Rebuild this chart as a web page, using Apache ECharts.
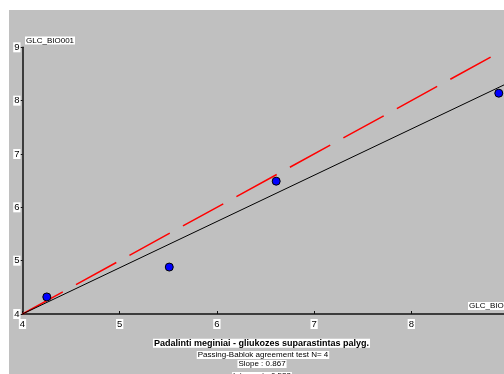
<!DOCTYPE html>
<html>
<head>
<meta charset="utf-8">
<script src="https://cdn.jsdelivr.net/npm/echarts@6/dist/echarts.min.js"></script>
<style>
  html, body { margin: 0; padding: 0; background: #ffffff; }
  #chart { position: absolute; left: 9px; top: 10px; width: 495px; height: 364px; }
</style>
</head>
<body>
<div id="chart"></div>
<script>
// Paired glucose measurements (GLC_BIO0 vs GLC_BIO001)
var xValues = [4.25, 5.51, 6.61, 8.90];
var yValues = [4.32, 4.88, 6.49, 8.14];

// Passing-Bablok fit results
var slope = 0.867;
var intercept = 0.532;
var nPairs = 4;

// Axis ranges and tick labels
var axisMin = 4;
var axisMax = 9;
var tickStep = 1;
var identityEnd = 8.87;

var xName = 'GLC_BIO001';
var yName = 'GLC_BIO001';
var titleText = 'Padalinti meginiai - gliukozes suparastintas palyg.';
var testText = 'Passing-Bablok agreement test N= ' + nPairs;
var slopeText = 'Slope : ' + slope.toFixed(3);
var interceptText = 'Intercept : ' + intercept.toFixed(3);

var FONT = '"Liberation Sans Narrow", "Liberation Sans", Arial, sans-serif';

var points = xValues.map(function (x, i) { return [x, yValues[i]]; });
var fitLine = [axisMin, axisMax].map(function (x) { return [x, intercept + slope * x]; });
var identityLine = [[axisMin, axisMin], [identityEnd, identityEnd]];

var chart = echarts.init(document.getElementById('chart'), null, { renderer: 'canvas' });

var labelStyle = {
  color: '#000',
  fontFamily: FONT,
  fontSize: 9.5,
  backgroundColor: '#ffffff',
  padding: [0, 1, 0, 1]
};

function whiteText(x, y, text, opts) {
  return {
    type: 'text',
    x: x,
    y: y,
    z: 10,
    style: Object.assign({
      text: text,
      fill: '#000',
      font: '9px ' + FONT,
      backgroundColor: '#ffffff',
      padding: [0, 1, 0, 1],
      align: 'center',
      verticalAlign: 'middle'
    }, opts || {})
  };
}

chart.setOption({
  backgroundColor: '#c0c0c0',
  animation: false,
  grid: {
    left: 13.5, top: 37.3, bottom: 60, right: -4.5,
    containLabel: false, outerBoundsMode: 'none'
  },
  xAxis: {
    type: 'value',
    min: axisMin,
    max: axisMax,
    interval: tickStep,
    splitLine: { show: false },
    axisLine: { show: true, onZero: false, lineStyle: { color: '#111', width: 1.5 } },
    axisTick: { show: true, inside: true, length: 3, lineStyle: { color: '#111', width: 1 } },
    axisLabel: Object.assign({ margin: 5 }, labelStyle)
  },
  yAxis: {
    type: 'value',
    min: axisMin,
    max: axisMax,
    interval: tickStep,
    splitLine: { show: false },
    axisLine: { show: true, onZero: false, lineStyle: { color: '#111', width: 1.5 } },
    axisTick: { show: true, inside: false, length: 2, lineStyle: { color: '#111', width: 1 } },
    axisLabel: Object.assign({ margin: 2 }, labelStyle)
  },
  graphic: [
    whiteText(16, 30.5, yName, { align: 'left', font: '8px ' + FONT }),
    whiteText(459, 296, xName, { align: 'left', font: '8px ' + FONT }),
    whiteText(252.5, 333.3, titleText, { font: 'bold 9px ' + FONT }),
    whiteText(254, 345, testText, { font: '8px ' + FONT }),
    whiteText(253, 354, slopeText, { font: '8px ' + FONT }),
    whiteText(253, 366, interceptText, { font: '8px ' + FONT })
  ],
  series: [
    {
      type: 'line',
      data: identityLine,
      symbol: 'none',
      z: 2,
      lineStyle: { color: '#ff0000', width: 1.5, type: [46, 15] }
    },
    {
      type: 'line',
      data: fitLine,
      symbol: 'none',
      z: 3,
      lineStyle: { color: '#000', width: 1 }
    },
    {
      type: 'scatter',
      data: points,
      symbol: 'circle',
      symbolSize: 8,
      z: 4,
      itemStyle: { color: '#0000ff', borderColor: '#000', borderWidth: 1, opacity: 1 }
    }
  ]
});
</script>
</body>
</html>
